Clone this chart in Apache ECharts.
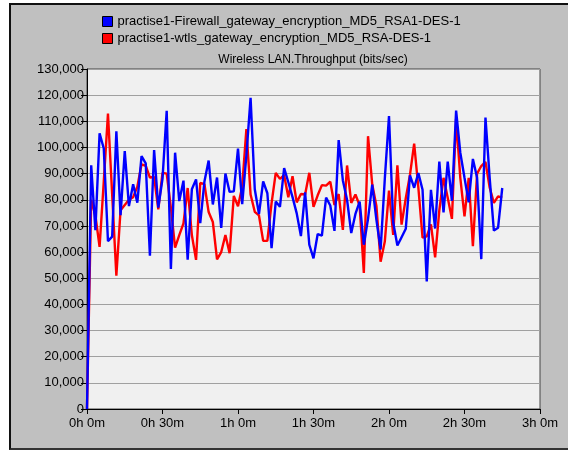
<!DOCTYPE html>
<html>
<head>
<meta charset="utf-8">
<script src="https://cdn.jsdelivr.net/npm/echarts@6/dist/echarts.min.js"></script>
<style>
  html, body { margin: 0; padding: 0; background: #ffffff; width: 568px; height: 451px; overflow: hidden; }
  #frame { position: absolute; left: 9px; top: 3px; width: 559px; height: 447px; background: #c0c0c0;
           border-left: 2px solid #111; border-top: 2px solid #111; border-bottom: 2px solid #333; box-sizing: border-box; }
  #chart { position: absolute; left: 0; top: 0; width: 568px; height: 451px; }
</style>
</head>
<body>
<div id="frame"></div>
<div id="chart"></div>
<script>
// ---- data ----
var blueName = 'practise1-Firewall_gateway_encryption_MD5_RSA1-DES-1';
var redName = 'practise1-wtls_gateway_encryption_MD5_RSA-DES-1';
var chartTitle = 'Wireless LAN.Throughput (bits/sec)';
var sampleStepSec = 100; // one value every 100 s
var blueValues = [
  0, 93200, 68400, 105400, 99600, 64200, 65900, 106200, 74100, 98600,
  77600, 85900, 78900, 96700, 93900, 58600, 99000, 77000, 88000, 114000,
  53500, 98000, 79500, 87300, 57100, 84000, 87800, 71100, 87000, 95000,
  78200, 88500, 69200, 90000, 83000, 83200, 99600, 78300, 97000, 119000,
  84000, 74500, 87000, 82500, 61500, 79300, 77300, 92100, 86700, 81000,
  74800, 66100, 82800, 62800, 57600, 66900, 66300, 80800, 77800, 68100,
  102800, 87400, 80000, 67300, 74600, 79300, 62800, 72700, 85800, 72300,
  61000, 88000, 112000, 71300, 62500, 65700, 68900, 89300, 84600, 90200,
  83800, 48800, 83800, 69000, 94600, 75200, 94600, 79600, 114100, 98000,
  88400, 79000, 95600, 88400, 57300, 111400, 88400, 68200, 69300, 84500
];
var redValues = [
  0, 80000, 74000, 62000, 87000, 113000, 82000, 51000, 76000, 78000,
  80000, 81000, 85000, 93500, 93000, 88500, 88700, 76300, 90300, 90000,
  77000, 61700, 66500, 71000, 84500, 66500, 57000, 86400, 86000, 75300,
  71500, 57200, 60000, 66500, 59600, 81500, 77500, 85000, 107000, 82000,
  75400, 74000, 64300, 64300, 78600, 90300, 88000, 89400, 81000, 89000,
  79000, 82200, 82000, 90300, 77300, 81700, 85600, 85400, 86900, 78000,
  82200, 68500, 93100, 78800, 82000, 77800, 52000, 104300, 85900, 77600,
  56300, 64000, 83500, 66600, 93200, 70500, 80600, 89500, 101500, 84600,
  65500, 66000, 70600, 58000, 76000, 88400, 80800, 72700, 111000, 88400,
  73700, 88400, 62300, 90000, 92900, 94500, 84700, 78800, 81300, 80800
];
var yMax = 130000, yStep = 10000;
var xMaxSec = 10800, xStepSec = 1800;

function toPairs(vals) {
  return vals.map(function (v, i) { return [i * sampleStepSec, v]; });
}
function fmtTime(v) {
  var h = Math.floor(v / 3600);
  var m = Math.round((v % 3600) / 60);
  return h + 'h ' + m + 'm';
}
function fmtNum(v) {
  return String(v).replace(/\B(?=(\d{3})+(?!\d))/g, ',');
}

var FONT = '"Liberation Sans", Arial, sans-serif';
var chart = echarts.init(document.getElementById('chart'), null, { renderer: 'canvas' });
chart.setOption({
  backgroundColor: 'transparent',
  animation: false,
  textStyle: { fontFamily: FONT },
  legend: {
    orient: 'vertical',
    left: 97,
    top: 10,
    padding: 5,
    itemWidth: 10,
    itemHeight: 10,
    itemGap: 4,
    icon: 'rect',
    textStyle: { fontSize: 13, color: '#000', fontFamily: FONT },
    data: [
      { name: blueName, itemStyle: { color: '#0000ff', borderColor: '#000', borderWidth: 1 } },
      { name: redName, itemStyle: { color: '#ff0000', borderColor: '#000', borderWidth: 1 } }
    ],
    selectedMode: false
  },
  graphic: [{
    type: 'text', x: 313, y: 60,
    style: { text: chartTitle, fill: '#000', font: '12px ' + FONT, textAlign: 'center', textVerticalAlign: 'middle' }
  }],
  grid: {
    left: 87, top: 69, width: 453, height: 340,
    show: true, backgroundColor: '#f0f0f0', borderColor: '#444', borderWidth: 1
  },
  xAxis: {
    type: 'value', min: 0, max: xMaxSec, interval: xStepSec,
    axisLine: { show: true, lineStyle: { color: '#000', width: 1 } },
    axisTick: { show: true, length: 5, lineStyle: { color: '#000' } },
    axisLabel: { formatter: fmtTime, color: '#000', fontSize: 13, margin: 8, fontFamily: FONT },
    splitLine: { show: false }
  },
  yAxis: {
    type: 'value', min: 0, max: yMax, interval: yStep,
    axisLine: { show: true, lineStyle: { color: '#000', width: 1 } },
    axisTick: { show: true, length: 6, lineStyle: { color: '#000' } },
    axisLabel: { formatter: fmtNum, color: '#000', fontSize: 13, margin: 3, fontFamily: FONT },
    splitLine: { show: true, lineStyle: { color: '#a0a0a0', width: 1 } }
  },
  series: [
    {
      name: redName, type: 'line', data: toPairs(redValues), showSymbol: false, symbol: 'none',
      lineStyle: { color: '#ff0000', width: 2.4 }, itemStyle: { color: '#ff0000' }, z: 2
    },
    {
      name: blueName, type: 'line', data: toPairs(blueValues), showSymbol: false, symbol: 'none',
      lineStyle: { color: '#0000ff', width: 2.4 }, itemStyle: { color: '#0000ff' }, z: 3
    }
  ]
});
</script>
</body>
</html>
